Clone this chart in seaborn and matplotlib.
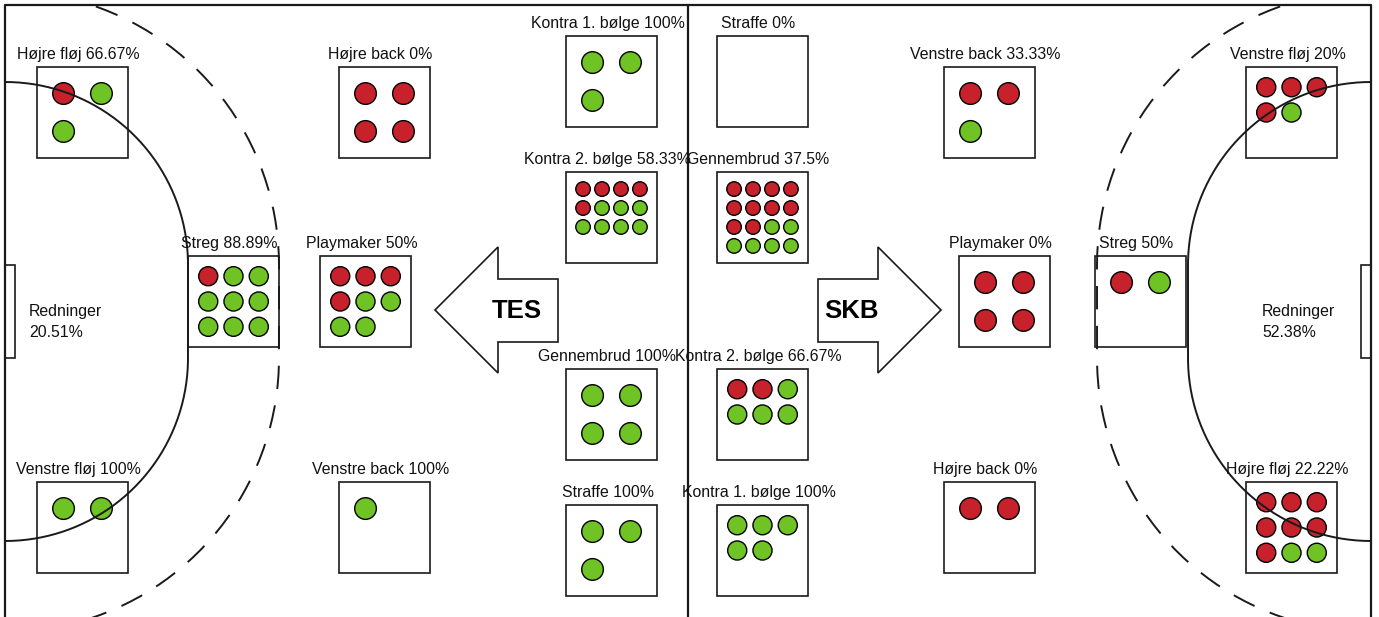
#!/usr/bin/env python

import numpy as np
import pandas as pd
import matplotlib.pyplot as plt
from matplotlib.patches import Rectangle, Polygon
import seaborn as sns

# shots per position: goals (green) and misses (red)
tes_positions = ["Højre fløj", "Højre back", "Streg", "Playmaker", "Venstre fløj",
                 "Venstre back", "Kontra 1. bølge", "Kontra 2. bølge", "Gennembrud", "Straffe"]
tes_goals = [2, 0, 8, 4, 2, 1, 3, 7, 4, 3]
tes_misses = [1, 4, 1, 4, 0, 0, 0, 5, 0, 0]

skb_positions = ["Straffe", "Gennembrud", "Kontra 2. bølge", "Kontra 1. bølge", "Venstre back",
                 "Venstre fløj", "Playmaker", "Streg", "Højre back", "Højre fløj"]
skb_goals = [0, 6, 4, 5, 1, 1, 0, 1, 0, 2]
skb_misses = [0, 10, 2, 0, 2, 4, 4, 1, 2, 7]

teams = ["TES", "SKB"]
saves_pct = [20.51, 52.38]

# layout (pixel coords, top-left corner of each box)
tes_boxes = [(37, 67), (339, 67), (188, 256), (320, 256), (37, 482),
             (339, 482), (566, 36), (566, 172), (566, 369), (566, 505)]
skb_boxes = [(717, 36), (717, 172), (717, 369), (717, 505), (944, 67),
             (1246, 67), (959, 256), (1095, 256), (944, 482), (1246, 482)]
BOX = 91
W, H = 1379, 617
LEFT, RIGHT, TOP = 5, 1371, 5
LINE = "#1a1a1a"


def dot_rows(boxes, goals, misses):
    rows = []
    for (x0, y0), g, m in zip(boxes, goals, misses):
        total = g + m
        if total == 0:
            continue
        n = int(np.ceil(np.sqrt(total)))
        n = max(n, 2)
        step = BOX / (1.2 * n)
        outcomes = ["miss"] * m + ["goal"] * g
        for k, o in enumerate(outcomes):
            r, c = divmod(k, n)
            rows.append({"x": x0 + BOX / 2 + (c - (n - 1) / 2) * step,
                         "y": y0 + BOX / 2 + (r - (n - 1) / 2) * step,
                         "outcome": o, "grid": f"g{n}"})
    return rows


def goal_area(r, mirror=False):
    t = np.linspace(0, np.pi / 2, 80)
    x1 = LEFT + r * np.sin(t)
    y1 = 265 - r * np.cos(t)
    x2 = LEFT + r * np.cos(t)
    y2 = 358 + r * np.sin(t)
    x = np.concatenate([x1, [LEFT + r, LEFT + r], x2])
    y = np.concatenate([y1, [265, 358], y2])
    keep = y >= TOP
    x, y = x[keep], y[keep]
    if mirror:
        x = LEFT + RIGHT - x
    return x, y


def main():
    sns.set_style("white")
    plt.rcParams["font.family"] = ["Liberation Sans", "DejaVu Sans"]

    fig = plt.figure(figsize=(W / 100, H / 100), dpi=100)
    ax = fig.add_axes([0, 0, 1, 1])
    ax.set_xlim(0, W)
    ax.set_ylim(H, 0)
    ax.axis("off")

    # court
    ax.plot([LEFT, LEFT, RIGHT, RIGHT], [H + 5, TOP, TOP, H + 5], color=LINE, lw=1.6, zorder=4)
    ax.plot([688, 688], [TOP, H + 5], color=LINE, lw=1.6, zorder=4)
    for mirror in (False, True):
        x, y = goal_area(183, mirror)
        ax.plot(x, y, color=LINE, lw=1.4, zorder=4)
        x, y = goal_area(274, mirror)
        ax.plot(x, y, color=LINE, lw=1.4, ls=(0, (12, 8.5)), zorder=4)
        gx = RIGHT - 10 if mirror else LEFT
        ax.add_patch(Rectangle((gx, 265), 10, 93, fill=False, ec=LINE, lw=1.2, zorder=4))

    # arrows
    arrow = np.array([(435, 310), (498, 247), (498, 279), (558, 279),
                      (558, 342), (498, 342), (498, 373)])
    for team, mirror in zip(teams, (False, True)):
        pts = arrow.copy().astype(float)
        if mirror:
            pts[:, 0] = LEFT + RIGHT - pts[:, 0]
        ax.add_patch(Polygon(pts, closed=True, fc="white", ec=LINE, lw=1.2, zorder=2))
        cx = 517 if not mirror else 851
        ax.text(cx, 311, team, ha="center", va="center", fontsize=18.5,
                fontweight="bold", color="black", zorder=3)

    # boxes and labels
    for positions, boxes, goals, misses in [
        (tes_positions, tes_boxes, tes_goals, tes_misses),
        (skb_positions, skb_boxes, skb_goals, skb_misses),
    ]:
        for name, (x0, y0), g, m in zip(positions, boxes, goals, misses):
            total = g + m
            pct = 100 * g / total if total else 0
            ax.add_patch(Rectangle((x0, y0), BOX, BOX, fill=False, ec=LINE, lw=1.2, zorder=2))
            ax.text(x0 + BOX / 2 - 4, y0 - 8, f"{name} {round(pct, 2):g}%",
                    ha="center", va="baseline", fontsize=11.4, color="#111111", zorder=6)

    # saves
    for pct, x in zip(saves_pct, (29, 1262)):
        ax.text(x, 316, "Redninger", ha="left", va="baseline", fontsize=11.4, color="#111111")
        ax.text(x, 337, f"{pct:.2f}%", ha="left", va="baseline", fontsize=11.4, color="#111111")

    dots = pd.DataFrame(dot_rows(tes_boxes, tes_goals, tes_misses)
                        + dot_rows(skb_boxes, skb_goals, skb_misses))
    sns.scatterplot(data=dots, x="x", y="y", hue="outcome", size="grid",
                    palette={"goal": "#6fc325", "miss": "#c7212c"},
                    sizes={"g2": 243, "g3": 189, "g4": 110},
                    edgecolor="black", linewidth=1.0, legend=False, ax=ax, zorder=3)
    ax.set_xlim(0, W)
    ax.set_ylim(H, 0)
    ax.axis("off")

    fig.savefig("out.png", dpi=100, facecolor="white")
    plt.close(fig)


if __name__ == '__main__':
    main()
